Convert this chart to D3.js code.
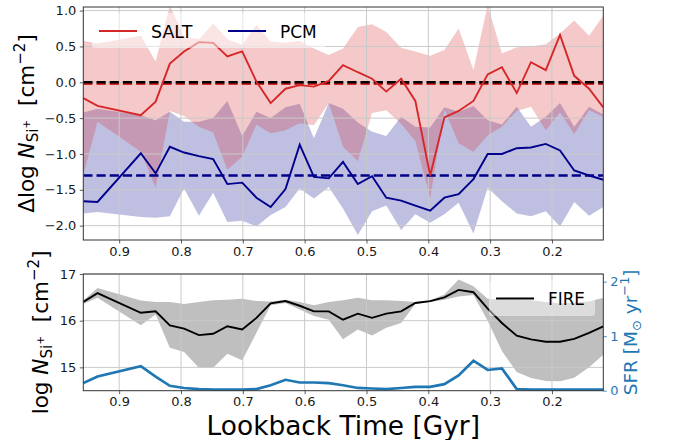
<!DOCTYPE html>
<html>
<head>
<meta charset="utf-8">
<script src="https://cdn.jsdelivr.net/npm/d3@7/dist/d3.min.js"></script>
<style>
  body { margin: 0; background: #fff; }
  svg { display: block; }
  text { font-family: "DejaVu Sans", sans-serif; }
</style>
</head>
<body>
<svg id="chart" width="673" height="440"></svg>
<script>
// Lookback time of each snapshot [Gyr]
const times = [0.958, 0.935, 0.865, 0.841, 0.818, 0.795, 0.771, 0.748, 0.725, 0.701,
  0.678, 0.655, 0.631, 0.608, 0.585, 0.561, 0.538, 0.514, 0.491, 0.468,
  0.444, 0.421, 0.397, 0.374, 0.351, 0.327, 0.304, 0.281, 0.257, 0.234,
  0.210, 0.187, 0.164, 0.140, 0.117];

// SALT: median offset and spread of Δlog N(Si+)
const saltMedian = [-0.22, -0.33, -0.46, -0.27, 0.26, 0.43, 0.56, 0.55, 0.36, 0.43,
  0.01, -0.29, -0.09, -0.04, -0.06, 0.02, 0.24, 0.14, 0.05, -0.13,
  0.05, -0.26, -1.30, -0.49, -0.40, -0.26, 0.11, 0.21, -0.15, 0.28,
  0.17, 0.66, 0.09, -0.09, -0.35];
const saltLow = [-1.29, -0.55, -0.97, -1.47, -0.40, -0.47, -0.62, -0.70, -1.22, -1.04,
  -0.59, -0.71, -0.67, -0.57, -0.60, -0.29, -0.90, -1.10, -0.43, -0.39,
  -0.58, -0.82, -1.62, -0.38, -0.85, -0.97, -0.74, -0.62, -0.40, -0.34,
  -0.67, -0.42, -0.72, -0.39, -0.48];
const saltHigh = [0.58, 0.54, 0.65, 0.29, 1.07, 0.64, 0.60, 0.82, 0.60, 0.52,
  0.80, 0.57, 0.55, 0.58, 0.47, 0.38, 0.47, 0.77, 0.81, 0.70,
  0.48, 0.43, 0.37, 0.45, 0.75, 0.17, 1.08, 0.40, 0.49, 0.50,
  0.53, 0.68, 0.86, 0.65, 0.93];

// PCM: median offset and spread of Δlog N(Si+)
const pcmMedian = [-1.66, -1.67, -0.99, -1.27, -0.90, -0.98, -1.03, -1.07, -1.42, -1.40,
  -1.61, -1.74, -1.49, -0.87, -1.32, -1.34, -1.11, -1.42, -1.31, -1.61,
  -1.65, -1.72, -1.79, -1.61, -1.56, -1.35, -1.00, -1.00, -0.92, -0.91,
  -0.86, -0.95, -1.23, -1.30, -1.36];
const pcmLow = [-1.83, -1.81, -1.88, -1.89, -1.87, -1.48, -1.86, -1.54, -1.95, -1.93,
  -2.01, -1.85, -1.74, -1.48, -1.62, -1.46, -1.76, -2.13, -1.80, -1.72,
  -2.06, -1.84, -1.96, -1.84, -1.68, -2.11, -1.47, -1.66, -1.83, -1.87,
  -1.80, -2.01, -1.67, -1.86, -1.74];
const pcmHigh = [-0.42, -0.37, -0.46, -0.53, -0.41, -0.55, -0.55, -0.50, -0.26, -0.75,
  -0.41, -0.50, -0.35, -0.30, -0.78, -0.29, -0.37, -0.56, -0.69, -0.75,
  -0.48, -0.62, -0.63, -0.35, -0.41, -0.33, -0.53, -0.59, -0.34, -0.62,
  -0.48, -0.29, -0.62, -0.34, -0.45];

// Reference levels: zero, SALT and PCM
const refLevels = [0.0, -0.02, -1.30];

// FIRE column density log N(Si+) and its spread
const fireMedian = [16.40, 16.59, 16.17, 16.20, 15.90, 15.83, 15.69, 15.72, 15.88, 15.81,
  16.06, 16.37, 16.42, 16.32, 16.20, 16.20, 16.02, 16.15, 16.06, 16.15,
  16.20, 16.38, 16.42, 16.50, 16.66, 16.61, 16.26, 15.95, 15.68, 15.60,
  15.55, 15.55, 15.61, 15.74, 15.88];
const fireLow = [16.36, 16.49, 15.90, 16.13, 15.42, 15.33, 14.99, 14.99, 15.29, 15.15,
  15.74, 16.33, 16.38, 16.24, 16.10, 16.02, 15.60, 15.81, 15.68, 15.85,
  15.95, 16.36, 16.40, 16.45, 16.52, 16.55, 16.00, 15.35, 14.90, 14.77,
  14.71, 14.70, 14.78, 15.00, 15.27];
const fireHigh = [16.43, 16.70, 16.43, 16.40, 16.40, 16.36, 16.40, 16.44, 16.45, 16.47,
  16.42, 16.41, 16.45, 16.40, 16.33, 16.40, 16.44, 16.49, 16.44, 16.44,
  16.42, 16.40, 16.44, 16.56, 16.88, 16.74, 16.47, 16.45, 16.45, 16.44,
  16.40, 16.37, 16.39, 16.41, 16.49];

// Star formation rate [Msun/yr]
const sfr = [0.14, 0.26, 0.45, 0.26, 0.09, 0.05, 0.03, 0.02, 0.02, 0.02,
  0.03, 0.10, 0.20, 0.15, 0.15, 0.14, 0.10, 0.05, 0.04, 0.03,
  0.05, 0.07, 0.07, 0.12, 0.28, 0.55, 0.38, 0.41, 0.03, 0.02,
  0.02, 0.02, 0.02, 0.02, 0.02];

// Tick values
const timeTicks = [0.9, 0.8, 0.7, 0.6, 0.5, 0.4, 0.3, 0.2];
const deltaTicks = [1.0, 0.5, 0.0, -0.5, -1.0, -1.5, -2.0];
const columnTicks = [15, 16, 17];
const sfrTicks = [0, 1, 2];

const C = {
  salt: "#d62728", pcm: "#00008b", fire: "#000000", sfr: "#1f77b4",
  grid: "#c9c9c9", spine: "#333333", text: "#1a1a1a"
};

const svg = d3.select("#chart");
const panelTop = { l: 83.3, r: 603.3, t: 7, b: 240 };
const panelBot = { l: 83.3, r: 603.3, t: 274, b: 390.7 };

const x = d3.scaleLinear().domain([times[0], times[times.length - 1]]).range([panelTop.l, panelTop.r]);
const yTop = d3.scaleLinear().domain([-2.2, 1.05]).range([panelTop.b, panelTop.t]);
const yBot = d3.scaleLinear().domain([14.5, 17]).range([panelBot.b, panelBot.t]);
const ySfr = d3.scaleLinear().domain([0, 2.14]).range([panelBot.b, panelBot.t]);

const defs = svg.append("defs");
function clip(id, p) {
  defs.append("clipPath").attr("id", id).append("rect")
    .attr("x", p.l).attr("y", p.t).attr("width", p.r - p.l).attr("height", p.b - p.t);
}
clip("clipTop", panelTop);
clip("clipBot", panelBot);

const rows = times.map((t, i) => ({
  t, sm: saltMedian[i], sl: saltLow[i], sh: saltHigh[i],
  pm: pcmMedian[i], pl: pcmLow[i], ph: pcmHigh[i],
  fm: fireMedian[i], fl: fireLow[i], fh: fireHigh[i], sfr: sfr[i]
}));

function grid(p, yScale, yVals) {
  const g = svg.append("g").attr("stroke", C.grid).attr("stroke-width", 1);
  g.selectAll(".gx").data(timeTicks).join("line")
    .attr("x1", d => x(d)).attr("x2", d => x(d)).attr("y1", p.t).attr("y2", p.b);
  g.selectAll(".gy").data(yVals).join("line")
    .attr("x1", p.l).attr("x2", p.r).attr("y1", d => yScale(d)).attr("y2", d => yScale(d));
}

// ---------- upper panel ----------
const gTop = svg.append("g").attr("clip-path", "url(#clipTop)");
gTop.append("path").datum(rows)
  .attr("d", d3.area().x(d => x(d.t)).y0(d => yTop(d.pl)).y1(d => yTop(d.ph)))
  .attr("fill", C.pcm).attr("fill-opacity", 0.25);
gTop.append("path").datum(rows)
  .attr("d", d3.area().x(d => x(d.t)).y0(d => yTop(d.sl)).y1(d => yTop(d.sh)))
  .attr("fill", C.salt).attr("fill-opacity", 0.25);
grid(panelTop, yTop, deltaTicks);

const gTopLines = svg.append("g").attr("clip-path", "url(#clipTop)");
// reference levels: red and blue dashes, black zero on top
[[refLevels[1], C.salt], [refLevels[2], C.pcm], [refLevels[0], "#000"]].forEach(([v, c]) => {
  gTopLines.append("line")
    .attr("x1", panelTop.l).attr("x2", panelTop.r).attr("y1", yTop(v)).attr("y2", yTop(v))
    .attr("stroke", c).attr("stroke-width", 2.4).attr("stroke-dasharray", "9.2,4");
});
gTopLines.append("path").datum(rows)
  .attr("d", d3.line().x(d => x(d.t)).y(d => yTop(d.sm)))
  .attr("fill", "none").attr("stroke", C.salt).attr("stroke-width", 1.9);
gTopLines.append("path").datum(rows)
  .attr("d", d3.line().x(d => x(d.t)).y(d => yTop(d.pm)))
  .attr("fill", "none").attr("stroke", C.pcm).attr("stroke-width", 1.9);

// ---------- lower panel ----------
const gBot = svg.append("g").attr("clip-path", "url(#clipBot)");
gBot.append("path").datum(rows)
  .attr("d", d3.area().x(d => x(d.t)).y0(d => yBot(d.fl)).y1(d => yBot(d.fh)))
  .attr("fill", "#808080").attr("fill-opacity", 0.5);
grid(panelBot, yBot, columnTicks);
const gBotLines = svg.append("g").attr("clip-path", "url(#clipBot)");
gBotLines.append("path").datum(rows)
  .attr("d", d3.line().x(d => x(d.t)).y(d => yBot(d.fm)))
  .attr("fill", "none").attr("stroke", C.fire).attr("stroke-width", 1.9);
gBotLines.append("path").datum(rows)
  .attr("d", d3.line().x(d => x(d.t)).y(d => ySfr(d.sfr)))
  .attr("fill", "none").attr("stroke", C.sfr).attr("stroke-width", 2.7);

// ---------- axes ----------
function styleAxis(g, color) {
  g.select(".domain").remove();
  g.selectAll(".tick line").attr("stroke", color || C.spine).attr("stroke-width", 0.8);
  g.selectAll(".tick text").attr("fill", color || C.text)
    .style("font-family", '"DejaVu Sans", sans-serif').style("font-size", "13px");
}
function frame(p) {
  svg.append("rect").attr("x", p.l).attr("y", p.t).attr("width", p.r - p.l).attr("height", p.b - p.t)
    .attr("fill", "none").attr("stroke", C.spine).attr("stroke-width", 1);
}
const fmt1 = d3.format(".1f");

svg.append("g").attr("transform", `translate(0,${panelTop.b})`)
  .call(d3.axisBottom(x).tickValues(timeTicks).tickFormat(fmt1).tickSize(3.5).tickPadding(3.5))
  .call(g => styleAxis(g));
svg.append("g").attr("transform", `translate(${panelTop.l},0)`)
  .call(d3.axisLeft(yTop).tickValues(deltaTicks).tickFormat(fmt1).tickSize(3.5).tickPadding(3.5))
  .call(g => styleAxis(g));
svg.append("g").attr("transform", `translate(0,${panelBot.b})`)
  .call(d3.axisBottom(x).tickValues(timeTicks).tickFormat(fmt1).tickSize(3.5).tickPadding(2.8))
  .call(g => styleAxis(g));
svg.append("g").attr("transform", `translate(${panelBot.l},0)`)
  .call(d3.axisLeft(yBot).tickValues(columnTicks).tickFormat(d3.format("d")).tickSize(3.5).tickPadding(3.5))
  .call(g => styleAxis(g));
svg.append("g").attr("transform", `translate(${panelBot.r},0)`)
  .call(d3.axisRight(ySfr).tickValues(sfrTicks).tickFormat(d3.format("d")).tickSize(3.5).tickPadding(3.5))
  .call(g => styleAxis(g, C.sfr));
frame(panelTop);
frame(panelBot);

// ---------- labels with sub/superscripts ----------
function richText(parent, px, py, rotate, parts, color) {
  const t = parent.append("text")
    .attr("transform", `translate(${px},${py}) rotate(${rotate})`)
    .attr("text-anchor", "middle").attr("fill", color);
  let prev = 0;
  parts.forEach(p => {
    t.append("tspan").attr("dy", p.b - prev).style("font-size", p.s + "px")
      .style("font-style", p.it ? "italic" : "normal").text(p.t);
    prev = p.b;
  });
  return t;
}
function columnLabel(prefix, L) {
  return [
    { t: prefix, s: L, b: 0 },
    { t: "N", s: L, b: 0, it: true },
    { t: "Si", s: L * 0.7, b: 0.2 * L },
    { t: "+", s: L * 0.5, b: -0.2 * L },
    { t: "\u00a0 [cm", s: L, b: 0 },
    { t: "\u2212" + "2", s: L * 0.7, b: -0.42 * L },
    { t: "]", s: L, b: 0 }
  ];
}
richText(svg, 34, (panelTop.t + panelTop.b) / 2, -90, columnLabel("\u0394log\u00a0", 21.5), "#000");
richText(svg, 48, (panelBot.t + panelBot.b) / 2, -90, columnLabel("log\u00a0", 21.5), "#000");
richText(svg, 637, (panelBot.t + panelBot.b) / 2, -90, [
  { t: "SFR [M", s: 18.5, b: 0 },
  { t: "\u2299", s: 18.5 * 0.7, b: 0.2 * 18.5 },
  { t: "\u00a0yr", s: 18.5, b: 0 },
  { t: "\u2212" + "1", s: 18.5 * 0.7, b: -0.42 * 18.5 },
  { t: "]", s: 18.5, b: 0 }
], C.sfr);

svg.append("text").attr("x", (panelTop.l + panelTop.r) / 2).attr("y", 434.5)
  .attr("text-anchor", "middle").style("font-size", "26.4px").attr("fill", "#000")
  .text("Lookback Time [Gyr]");

// ---------- legends ----------
function legend(box, items) {
  svg.append("rect").attr("x", box.x).attr("y", box.y).attr("width", box.w).attr("height", box.h)
    .attr("rx", 3).attr("fill", "#fff").attr("fill-opacity", box.alpha);
  items.forEach(it => {
    svg.append("line").attr("x1", it.x).attr("x2", it.x + 38).attr("y1", box.cy).attr("y2", box.cy)
      .attr("stroke", it.color).attr("stroke-width", 1.9);
    svg.append("text").attr("x", it.x + 52).attr("y", box.cy + 6.8)
      .attr("textLength", it.w).attr("lengthAdjust", "spacingAndGlyphs")
      .style("font-size", "18.5px").attr("fill", "#000").text(it.label);
  });
}
legend({ x: 92, y: 13, w: 234, h: 35, cy: 31, alpha: 0.5 }, [
  { x: 99, color: C.salt, label: "SALT", w: 41.3 },
  { x: 228, color: C.pcm, label: "PCM", w: 36.7 }
]);
legend({ x: 489, y: 281, w: 106, h: 35, cy: 298.5, alpha: 0.45 }, [
  { x: 496, color: C.fire, label: "FIRE", w: 37 }
]);
</script>
</body>
</html>
